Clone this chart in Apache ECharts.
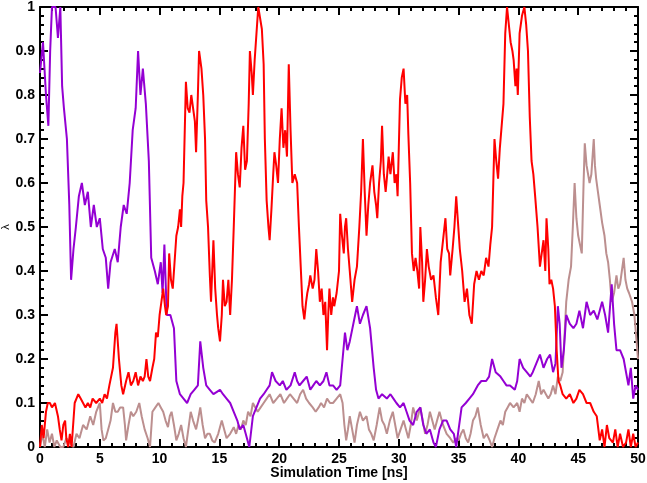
<!DOCTYPE html>
<html>
<head>
<meta charset="utf-8">
<script src="https://cdn.jsdelivr.net/npm/echarts@6/dist/echarts.min.js"></script>
<style>html,body{margin:0;padding:0;background:#fff;}#c{width:647px;height:483px;}</style>
</head>
<body>
<div id="c"></div>
<script>
// ---- data ----
var xTicks = [0,5,10,15,20,25,30,35,40,45,50];
var yTicks = [0,0.1,0.2,0.3,0.4,0.5,0.6,0.7,0.8,0.9,1];

var purpleT = [0,0.25,0.5,0.7,0.85,1.0,1.3,1.5,1.7,1.85,2.0,2.25,2.45,2.6,2.8,3.0,3.25,3.5,3.75,4.0,4.25,4.5,4.75,5.0,5.25,5.5,5.7,5.9,6.25,6.5,6.75,7.0,7.25,7.5,7.75,8.0,8.2,8.4,8.6,8.85,9.1,9.3,9.6,9.85,10.1,10.25,10.4,10.6,10.9,11.2,11.4,11.7,12.0,12.3,12.6,12.9,13.2,13.4,13.65,13.9,14.2,14.5,15.05,15.3,15.6,15.9,16.2,16.5,16.7,17.0,17.2,17.5,17.8,18.1,18.4,18.7,18.95,19.2,19.4,19.7,20.05,20.3,20.6,20.95,21.3,21.5,21.7,22.0,22.3,22.6,22.85,23.1,23.4,23.7,23.95,24.2,24.5,24.8,25.1,25.3,25.5,25.7,25.9,26.2,26.5,26.75,27.0,27.3,27.6,27.9,28.1,28.3,28.6,29.0,29.3,29.55,29.8,30.1,30.4,30.65,30.9,31.2,31.5,31.8,32.05,32.3,32.6,32.9,33.1,33.4,33.7,34.0,34.3,34.6,34.8,35.0,35.25,35.6,35.9,36.2,36.6,36.9,37.3,37.55,37.8,38.1,38.5,38.75,39.0,39.3,39.7,39.9,40.1,40.4,40.7,41.0,41.2,41.5,41.8,42.1,42.4,42.65,42.9,43.1,43.3,43.45,43.6,43.8,44.0,44.3,44.6,44.85,45.1,45.4,45.7,46.0,46.3,46.6,47.0,47.25,47.5,47.8,48.0,48.2,48.5,48.8,49.0,49.2,49.4,49.6,49.8,50];
var purpleV = [0.85,0.92,0.8,0.73,0.9,1.0,1.0,0.93,1.0,0.82,0.77,0.7,0.55,0.38,0.45,0.5,0.57,0.6,0.55,0.58,0.5,0.55,0.5,0.52,0.45,0.43,0.36,0.42,0.45,0.42,0.5,0.55,0.53,0.6,0.72,0.77,0.9,0.8,0.86,0.78,0.65,0.43,0.4,0.37,0.42,0.35,0.46,0.3,0.3,0.27,0.15,0.12,0.11,0.1,0.12,0.13,0.14,0.24,0.18,0.14,0.13,0.12,0.13,0.12,0.11,0.1,0.08,0.06,0.04,0.05,0.03,0.0,0.07,0.09,0.11,0.12,0.13,0.14,0.17,0.15,0.14,0.15,0.13,0.14,0.17,0.15,0.14,0.15,0.16,0.13,0.14,0.15,0.14,0.15,0.17,0.14,0.14,0.13,0.14,0.2,0.26,0.22,0.24,0.28,0.32,0.28,0.3,0.32,0.27,0.18,0.13,0.11,0.12,0.11,0.12,0.11,0.1,0.09,0.1,0.08,0.06,0.05,0.08,0.09,0.05,0.03,0.04,0.01,0.0,0.04,0.06,0.06,0.04,0.03,0.0,0.04,0.09,0.1,0.11,0.12,0.14,0.15,0.15,0.16,0.2,0.17,0.16,0.15,0.14,0.14,0.13,0.15,0.2,0.18,0.17,0.16,0.17,0.19,0.21,0.18,0.2,0.21,0.17,0.19,0.32,0.28,0.18,0.22,0.3,0.28,0.27,0.28,0.31,0.27,0.33,0.3,0.31,0.29,0.33,0.3,0.26,0.37,0.28,0.22,0.22,0.2,0.17,0.14,0.18,0.11,0.14,0.13];

var redT = [0,0.15,0.3,0.5,0.65,0.83,1.0,1.25,1.5,1.65,1.8,1.95,2.1,2.2,2.36,2.5,2.64,2.9,3.2,3.4,3.6,3.8,4.0,4.2,4.4,4.7,5.0,5.2,5.4,5.6,5.8,6.1,6.3,6.4,6.6,6.8,6.95,7.2,7.4,7.6,7.8,8.0,8.2,8.4,8.6,8.75,8.9,9.05,9.2,9.4,9.55,9.7,9.85,10.0,10.15,10.3,10.45,10.55,10.7,10.8,10.95,11.1,11.25,11.4,11.55,11.7,11.8,11.9,12.0,12.2,12.35,12.5,12.65,12.8,12.95,13.05,13.2,13.3,13.5,13.65,13.8,13.9,14.05,14.2,14.3,14.5,14.65,14.8,14.9,15.05,15.2,15.3,15.45,15.6,15.75,15.9,16.05,16.2,16.4,16.55,16.7,16.85,17.0,17.15,17.3,17.45,17.55,17.7,17.8,17.95,18.1,18.25,18.4,18.55,18.7,18.8,18.95,19.1,19.2,19.35,19.5,19.6,19.75,19.9,20.05,20.2,20.35,20.5,20.65,20.8,20.95,21.1,21.3,21.5,21.65,21.8,21.95,22.1,22.25,22.35,22.5,22.6,22.8,22.95,23.1,23.25,23.4,23.55,23.7,23.85,24.0,24.1,24.2,24.35,24.5,24.6,24.8,25.0,25.1,25.25,25.4,25.5,25.6,25.75,25.9,26.1,26.3,26.5,26.7,26.85,27.0,27.15,27.3,27.45,27.6,27.8,27.95,28.1,28.2,28.35,28.5,28.6,28.75,28.9,29.0,29.15,29.3,29.5,29.65,29.8,29.9,30.0,30.1,30.25,30.4,30.55,30.7,30.8,30.95,31.1,31.25,31.4,31.55,31.7,31.8,31.95,32.05,32.2,32.35,32.5,32.7,32.9,33.1,33.3,33.5,33.7,33.9,34.05,34.2,34.3,34.5,34.65,34.8,34.95,35.1,35.3,35.5,35.7,35.9,36.1,36.3,36.5,36.7,36.9,37.1,37.3,37.5,37.65,37.8,37.9,38.0,38.15,38.3,38.45,38.6,38.75,38.9,39.05,39.2,39.35,39.5,39.6,39.75,39.85,39.95,40.1,40.3,40.5,40.65,40.8,40.95,41.1,41.25,41.4,41.6,41.8,41.95,42.1,42.25,42.35,42.5,42.6,42.75,42.9,43.05,43.2,43.35,43.5,43.7,44.0,44.3,44.6,44.85,45.1,45.4,45.7,46.0,46.3,46.55,46.8,47.0,47.2,47.4,47.6,47.9,48.1,48.3,48.5,48.75,49.0,49.2,49.4,49.6,49.8,50];
var redV = [0.0,0.05,0.02,0.08,0.1,0.1,0.09,0.1,0.07,0.04,0.015,0.05,0.06,0.02,0.0,0.03,0.0,0.1,0.12,0.11,0.1,0.09,0.1,0.09,0.11,0.1,0.11,0.1,0.12,0.11,0.14,0.18,0.26,0.28,0.2,0.14,0.12,0.15,0.17,0.14,0.15,0.17,0.14,0.16,0.15,0.16,0.2,0.16,0.15,0.18,0.2,0.26,0.25,0.3,0.33,0.36,0.32,0.3,0.32,0.44,0.38,0.36,0.42,0.48,0.5,0.54,0.5,0.57,0.6,0.83,0.77,0.76,0.8,0.8,0.74,0.67,0.8,0.9,0.86,0.8,0.7,0.56,0.5,0.39,0.33,0.47,0.36,0.3,0.27,0.24,0.3,0.38,0.32,0.33,0.38,0.3,0.38,0.5,0.67,0.62,0.59,0.68,0.73,0.63,0.65,0.78,0.9,0.85,0.8,0.88,0.94,1.0,1.0,0.95,0.87,0.7,0.56,0.5,0.47,0.54,0.62,0.67,0.64,0.6,0.7,0.77,0.68,0.72,0.66,0.87,0.72,0.6,0.62,0.6,0.5,0.41,0.32,0.29,0.33,0.35,0.37,0.39,0.36,0.38,0.45,0.4,0.33,0.36,0.3,0.33,0.22,0.3,0.36,0.3,0.34,0.32,0.35,0.4,0.53,0.48,0.44,0.5,0.52,0.45,0.4,0.33,0.38,0.41,0.5,0.58,0.7,0.58,0.48,0.55,0.6,0.64,0.58,0.55,0.52,0.6,0.65,0.73,0.62,0.58,0.61,0.66,0.62,0.67,0.6,0.62,0.57,0.68,0.79,0.84,0.86,0.78,0.8,0.71,0.6,0.44,0.4,0.43,0.4,0.36,0.5,0.42,0.33,0.38,0.45,0.41,0.38,0.39,0.34,0.3,0.42,0.47,0.52,0.45,0.44,0.39,0.45,0.5,0.57,0.51,0.45,0.4,0.33,0.36,0.3,0.28,0.37,0.4,0.38,0.4,0.39,0.43,0.41,0.46,0.5,0.6,0.7,0.65,0.61,0.68,0.73,0.78,0.94,1.0,1.0,0.92,0.9,0.88,0.82,0.86,0.8,0.94,0.98,1.0,0.96,0.9,0.75,0.65,0.62,0.57,0.5,0.41,0.44,0.47,0.4,0.52,0.45,0.37,0.38,0.36,0.32,0.22,0.15,0.14,0.12,0.11,0.12,0.1,0.11,0.13,0.12,0.1,0.1,0.08,0.07,0.015,0.04,0.0,0.05,0.02,0.01,0.04,0.0,0.03,0.0,0.01,0.04,0.0,0.03,0.0,0.01];

var tanT = [0,0.2,0.4,0.6,0.8,1.0,1.2,1.4,1.7,1.95,2.2,2.5,2.8,3.05,3.3,3.6,3.9,4.2,4.45,4.7,5.0,5.15,5.3,5.5,5.7,5.9,6.1,6.3,6.5,6.7,6.95,7.1,7.2,7.4,7.6,7.8,8.05,8.3,8.5,8.75,9.0,9.2,9.4,9.65,9.9,10.1,10.3,10.5,10.7,10.85,11.0,11.2,11.4,11.6,11.8,12.0,12.2,12.4,12.6,12.8,13.05,13.2,13.4,13.6,13.8,14.0,14.2,14.4,14.6,14.9,15.2,15.4,15.6,15.9,16.2,16.4,16.6,16.8,17.0,17.2,17.4,17.6,17.8,18.0,18.2,18.45,18.7,18.95,19.2,19.5,19.8,20.1,20.4,20.65,20.9,21.2,21.5,21.75,22.0,22.25,22.5,22.8,23.05,23.3,23.5,23.75,24.0,24.25,24.5,24.8,25.1,25.3,25.45,25.6,25.75,25.9,26.1,26.3,26.5,26.75,27.0,27.3,27.5,27.7,27.9,28.15,28.4,28.6,28.8,29.0,29.25,29.5,29.7,29.9,30.15,30.4,30.6,30.8,31.0,31.2,31.5,31.8,32.0,32.2,32.4,32.6,32.8,33.0,33.2,33.4,33.7,34.0,34.3,34.55,34.8,35.0,35.2,35.4,35.6,35.8,36.0,36.2,36.4,36.6,36.85,37.1,37.35,37.6,37.8,38.0,38.25,38.5,38.7,38.9,39.1,39.3,39.6,39.9,40.1,40.3,40.5,40.7,40.95,41.2,41.45,41.7,41.9,42.1,42.3,42.5,42.7,42.9,43.1,43.3,43.5,43.7,43.85,44.0,44.2,44.4,44.55,44.7,44.85,45.0,45.15,45.3,45.45,45.55,45.7,45.8,45.95,46.1,46.3,46.4,46.5,46.65,46.8,47.0,47.2,47.35,47.5,47.65,47.8,48.0,48.2,48.35,48.5,48.65,48.8,48.95,49.1,49.25,49.5,49.7,49.85,50];
var tanV = [0.0,0.03,0.0,0.04,0.01,0.03,0.0,0.015,0.0,0.0,0.02,0.01,0.0,0.03,0.02,0.05,0.04,0.07,0.05,0.08,0.1,0.04,0.015,0.02,0.04,0.06,0.1,0.08,0.08,0.09,0.09,0.05,0.015,0.05,0.08,0.07,0.08,0.1,0.07,0.04,0.02,0.0,0.08,0.09,0.1,0.09,0.08,0.06,0.045,0.07,0.08,0.05,0.015,0.03,0.05,0.02,0.0,0.04,0.08,0.06,0.04,0.06,0.09,0.05,0.02,0.03,0.03,0.015,0.01,0.03,0.06,0.04,0.02,0.03,0.045,0.03,0.05,0.04,0.06,0.05,0.08,0.07,0.1,0.09,0.08,0.09,0.1,0.11,0.12,0.1,0.11,0.12,0.1,0.11,0.12,0.11,0.1,0.12,0.13,0.11,0.1,0.09,0.08,0.09,0.1,0.09,0.11,0.1,0.1,0.11,0.12,0.1,0.05,0.015,0.04,0.07,0.04,0.01,0.05,0.08,0.06,0.07,0.04,0.03,0.015,0.05,0.09,0.06,0.05,0.03,0.06,0.08,0.05,0.02,0.04,0.06,0.04,0.02,0.05,0.09,0.06,0.09,0.06,0.03,0.05,0.08,0.06,0.04,0.06,0.08,0.05,0.03,0.02,0.01,0.02,0.015,0.03,0.04,0.02,0.01,0.03,0.06,0.07,0.09,0.05,0.02,0.03,0.015,0.0,0.02,0.04,0.06,0.05,0.08,0.09,0.1,0.09,0.1,0.08,0.11,0.1,0.12,0.11,0.1,0.12,0.15,0.12,0.13,0.12,0.11,0.12,0.14,0.12,0.16,0.15,0.17,0.25,0.33,0.38,0.41,0.5,0.6,0.52,0.48,0.46,0.44,0.6,0.69,0.64,0.64,0.6,0.62,0.7,0.64,0.61,0.58,0.55,0.51,0.48,0.44,0.42,0.38,0.33,0.35,0.39,0.36,0.37,0.4,0.43,0.38,0.36,0.35,0.33,0.3,0.25,0.2];

function pairs(t, v) { return t.map(function (x, i) { return [x, v[i]]; }); }

var FONT = '"Liberation Sans", Arial, Helvetica, sans-serif';
var tickStyle = { color: '#000', width: 2 };

function xAx(pos, showLabels, name) {
  return {
    type: 'value', position: pos, min: 0, max: 50, interval: 5,
    name: name || '', nameLocation: 'middle', nameGap: 19, nameMoveOverlap: false,
    nameTextStyle: { fontFamily: FONT, fontWeight: 'bold', fontSize: 14, color: '#000' },
    axisLine: { show: true, onZero: false, lineStyle: { color: '#000', width: 2 } },
    axisTick: { show: true, inside: true, length: 8, lineStyle: tickStyle },
    minorTick: { show: true, splitNumber: 5, length: 4, lineStyle: tickStyle },
    axisLabel: { show: showLabels, margin: 5, fontFamily: FONT, fontWeight: 'bold', fontSize: 14, color: '#000' },
    splitLine: { show: false }, minorSplitLine: { show: false }
  };
}
function yAx(pos, showLabels, name) {
  return {
    type: 'value', position: pos, min: 0, max: 1, interval: 0.1,
    name: name || '', nameLocation: 'middle', nameGap: 29, nameRotate: 90, nameMoveOverlap: false,
    nameTextStyle: { fontFamily: FONT, fontSize: 11, color: '#000' },
    axisLine: { show: true, onZero: false, lineStyle: { color: '#000', width: 2 } },
    axisTick: { show: true, inside: true, length: 8, lineStyle: tickStyle },
    minorTick: { show: true, splitNumber: 5, length: 4, lineStyle: tickStyle },
    axisLabel: { show: showLabels, margin: 5, fontFamily: FONT, fontWeight: 'bold', fontSize: 14, color: '#000',
      formatter: function (v) { return (v === 0 || v === 1) ? String(v) : v.toFixed(1); } },
    splitLine: { show: false }, minorSplitLine: { show: false }
  };
}

var chart = echarts.init(document.getElementById('c'), null, { renderer: 'canvas' });
chart.setOption({
  animation: false,
  backgroundColor: '#fff',
  grid: { left: 40, right: 9, top: 7, bottom: 36, containLabel: false, outerBoundsMode: 'none' },
  xAxis: [xAx('bottom', true, 'Simulation Time [ns]'), xAx('top', false)],
  yAxis: [yAx('left', true, 'λ'), yAx('right', false)],
  series: [
    { type: 'line', data: pairs(tanT, tanV), showSymbol: false, lineStyle: { color: '#bc8f8f', width: 2 }, itemStyle: { color: '#bc8f8f' }, z: 2 },
    { type: 'line', data: pairs(purpleT, purpleV), showSymbol: false, lineStyle: { color: '#9400d3', width: 2 }, itemStyle: { color: '#9400d3' }, z: 3 },
    { type: 'line', data: pairs(redT, redV), showSymbol: false, lineStyle: { color: '#ff0000', width: 2 }, itemStyle: { color: '#ff0000' }, z: 4 }
  ]
});
</script>
</body>
</html>
